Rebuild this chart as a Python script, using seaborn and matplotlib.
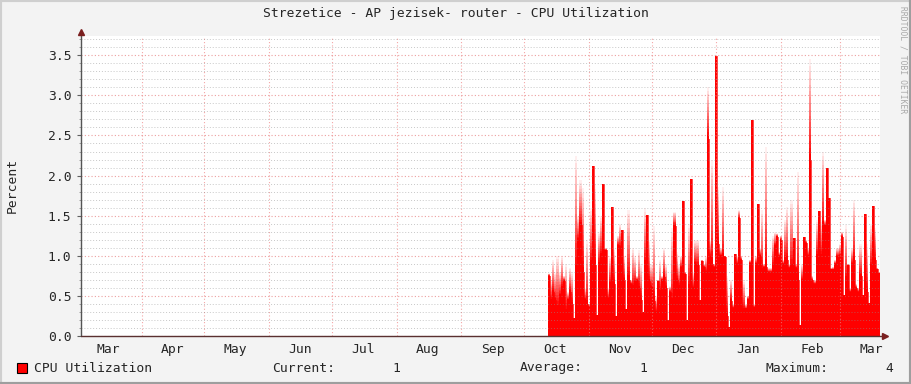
import numpy as np
import pandas as pd
import matplotlib
matplotlib.use("Agg")
import matplotlib.pyplot as plt
import matplotlib.dates as mdates
from matplotlib.ticker import MultipleLocator, FormatStrFormatter
from matplotlib.patches import Rectangle
from matplotlib.lines import Line2D
import seaborn as sns

# ---------------- data ----------------
title = "Strezetice - AP jezisek- router - CPU Utilization"
y_label = "Percent"
series_name = "CPU Utilization"
first_sample = "2012-10-12 12:00"
x_start = "2012-03-03 00:00"
x_end = "2013-03-20 08:00"

# daily solid level (percent)
cpu_base = [
    0.75, 0.45, 0.55, 0.45, 0.35, 0.50, 0.60, 0.69, 0.30, 0.45, 0.55, 0.40, 0.22,
    0.80, 1.20, 1.38, 0.80, 0.45, 0.40, 0.37, 0.90, 2.12, 0.89, 0.26, 0.90, 1.00,
    1.90, 1.07, 0.47, 0.65, 1.61, 0.65, 0.25, 1.13, 1.10, 1.32, 0.70, 0.34, 0.70,
    0.65, 0.60, 0.66, 0.70, 0.60, 0.45, 0.30, 0.90, 1.51, 0.68, 0.60, 0.44, 0.30,
    0.68, 0.55, 0.70, 0.74, 0.60, 0.20, 0.55, 0.42, 1.37, 0.70, 0.62, 0.85, 1.68,
    0.77, 0.20, 0.60, 1.96, 0.60, 0.90, 0.88, 0.45, 0.93, 0.86, 0.80, 2.46, 0.99,
    0.90, 0.86, 3.49, 1.15, 1.00, 0.98, 0.99, 0.25, 0.11, 0.44, 0.35, 1.02, 0.90,
    1.47, 0.95, 0.33, 0.34, 0.46, 0.91, 2.69, 0.36, 0.90, 1.65, 1.00, 0.80, 0.86,
    0.86, 0.80, 0.80, 0.88, 1.12, 1.24, 1.00, 1.20, 0.90, 0.95, 0.95, 0.85, 0.85,
    1.22, 0.85, 0.70, 0.14, 0.70, 1.24, 1.16, 1.00, 2.19, 0.70, 0.65, 1.00, 1.56,
    1.00, 1.38, 1.38, 2.09, 1.72, 0.83, 0.83, 0.90, 0.99, 1.00, 1.24, 0.51, 0.70,
    0.88, 0.55, 0.90, 0.95, 0.60, 0.55, 0.75, 0.51, 1.52, 0.55, 0.41, 0.86, 1.62,
    0.95, 0.83, 0.78,
]
# daily peak level (percent), faded part above the solid level
cpu_peak = [
    0.78, 0.70, 0.95, 0.80, 1.00, 0.80, 1.00, 0.75, 0.90, 0.55, 0.85, 0.80, 0.22,
    2.25, 1.50, 1.94, 1.85, 0.60, 1.20, 0.40, 1.60, 2.12, 1.90, 0.26, 1.30, 1.50,
    1.90, 1.10, 0.60, 1.00, 1.61, 1.10, 0.25, 1.25, 1.40, 1.32, 1.00, 0.34, 1.57,
    0.70, 1.10, 0.99, 0.75, 1.07, 0.90, 0.30, 1.59, 1.51, 1.20, 0.90, 1.37, 0.50,
    0.70, 0.95, 0.75, 1.10, 0.90, 0.20, 0.62, 1.35, 1.55, 1.05, 0.90, 1.00, 1.68,
    0.80, 0.20, 1.40, 1.96, 0.80, 1.20, 1.20, 0.45, 0.95, 0.90, 1.00, 3.10, 1.20,
    2.20, 0.90, 3.49, 1.86, 1.10, 1.86, 1.00, 0.75, 0.11, 0.70, 0.40, 1.02, 1.00,
    1.57, 1.00, 0.70, 0.40, 0.50, 0.95, 2.69, 0.40, 1.00, 1.65, 1.10, 1.57, 0.90,
    2.36, 0.85, 0.85, 1.25, 1.30, 1.28, 1.05, 1.25, 0.95, 1.45, 1.61, 0.90, 1.70,
    1.22, 0.90, 2.05, 0.14, 0.90, 1.24, 1.20, 1.10, 3.45, 0.75, 0.70, 1.45, 1.56,
    1.45, 2.30, 1.45, 2.09, 1.72, 0.85, 0.86, 0.95, 1.10, 1.15, 1.30, 0.51, 1.38,
    0.90, 0.60, 1.10, 1.70, 0.65, 0.60, 1.15, 0.51, 1.52, 1.15, 0.41, 1.40, 1.62,
    1.35, 0.85, 0.80,
]
legend_labels = ["Current:", "Average:", "Maximum:"]
legend_values = ["1", "1", "4"]

# ---------------- style ----------------
sns.set_style("white")
plt.rcParams["font.family"] = ["DejaVu Sans Mono"]
FS = 9.4

W, H = 911, 384
fig = plt.figure(figsize=(W / 100, H / 100), dpi=100)
fig.patch.set_facecolor("#f3f3f3")

def fx(px):
    return px / W

def fy(py):
    return 1 - py / H

ax = fig.add_axes([fx(81), fy(336), (880 - 81) / W, (336 - 36) / H])
ax.set_facecolor("white")

n = len(cpu_base)
dates = pd.date_range(first_sample, periods=n + 1, freq="D")
base = np.append(cpu_base, cpu_base[-1])
peak = np.append(cpu_peak, cpu_peak[-1])
df = pd.DataFrame({"date": dates, "base": base, "peak": peak})

# faded peaks: tallest/lightest first, then shorter/darker on top
N = 16
for k in range(N - 1, -1, -1):
    t = k / N
    hi = df["base"] + (df["peak"] - df["base"]) * (k + 1) / N
    ax.fill_between(df["date"], df["base"], hi, step="post",
                    color=(1.0, t, t), lw=0, antialiased=False, zorder=1)
# solid part
ax.fill_between(df["date"], 0, df["base"], step="post", color="#ff0000",
                lw=0, antialiased=False, zorder=1.2)
sns.lineplot(data=df, x="date", y="base", drawstyle="steps-post",
             color="#ff0000", lw=0.5, ax=ax, zorder=1.3)

ax.set_xlim(pd.Timestamp(x_start), pd.Timestamp(x_end))
ax.set_ylim(0, 3.74)

ax.xaxis.set_major_locator(mdates.MonthLocator(bymonthday=16))
ax.xaxis.set_major_formatter(mdates.DateFormatter("%b"))
ax.xaxis.set_minor_locator(mdates.MonthLocator(bymonthday=1))
ax.yaxis.set_major_locator(MultipleLocator(0.5))
ax.yaxis.set_major_formatter(FormatStrFormatter("%.1f"))
ax.yaxis.set_minor_locator(MultipleLocator(0.1))

ax.set_axisbelow(False)
ax.grid(False)
ax.grid(which="minor", axis="x", color="#f08080", alpha=0.7, lw=0.8,
        linestyle=(0, (1, 2)), zorder=3)
ax.grid(which="major", axis="y", color="#e06060", alpha=0.6, lw=0.8,
        linestyle=(0, (1, 2)), zorder=3)
ax.grid(which="minor", axis="y", color="#909090", alpha=0.5, lw=0.7,
        linestyle=(0, (1, 2)), zorder=3)

ax.tick_params(axis="x", which="major", length=0, pad=5, labelsize=FS)
ax.tick_params(axis="x", which="minor", length=2, color="#e08080", direction="out")
ax.tick_params(axis="y", which="major", length=3, color="#606060", pad=4,
               labelsize=FS, left=True)
ax.tick_params(axis="y", which="minor", length=1.5, color="#909090", left=True)
ax.set_xlabel("")
ax.set_ylabel("")

for s in ["top", "right"]:
    ax.spines[s].set_visible(False)
ax.spines["left"].set_visible(False)
ax.spines["bottom"].set_visible(False)

# axis lines with arrows
ax_col = "#555555"
fig.add_artist(Line2D([fx(81), fx(81)], [fy(336), fy(32)], color=ax_col, lw=1.0))
fig.add_artist(Line2D([fx(81), fx(884)], [fy(336), fy(336)], color="#5a3030", lw=1.0))
ax.plot([0], [1.0], transform=fig.transFigure, alpha=0)
fig.add_artist(Line2D([fx(81)], [fy(32)], marker="^", color="#7a1f1f", ms=5, lw=0))
fig.add_artist(Line2D([fx(885)], [fy(336)], marker=">", color="#7a1f1f", ms=5, lw=0))

# texts
fig.text(fx(455.5), fy(14), title, ha="center", va="center", fontsize=FS)
fig.text(fx(12), fy(185), y_label, ha="center", va="center", rotation=90, fontsize=FS)
fig.text(fx(903), fy(60), "RRDTOOL / TOBI OETIKER", ha="center", va="center",
         rotation=270, fontsize=5.8, color="#a8a8a8")

# legend
ly = 368
fig.add_artist(Rectangle((fx(17), fy(373)), 10 / W, 10 / H, facecolor="#ff0000",
                         edgecolor="black", lw=0.8, transform=fig.transFigure))
fig.text(fx(34), fy(ly), series_name, ha="left", va="center", fontsize=FS)
lab_x = [272, 520, 765]
val_x = [396, 643, 889]
for lab, val, lx, vx in zip(legend_labels, legend_values, lab_x, val_x):
    fig.text(fx(lx), fy(ly), lab, ha="left", va="center", fontsize=FS)
    fig.text(fx(vx), fy(ly), val, ha="center", va="center", fontsize=FS)

# outer frame (shade)
fig.add_artist(Line2D([0, 0, 1], [0, 1, 1], transform=fig.transFigure,
                      color="#cfcfcf", lw=3))
fig.add_artist(Line2D([0, 1, 1], [0, 0, 1], transform=fig.transFigure,
                      color="#9e9e9e", lw=3))

fig.savefig("out.png", dpi=100, facecolor=fig.get_facecolor())
